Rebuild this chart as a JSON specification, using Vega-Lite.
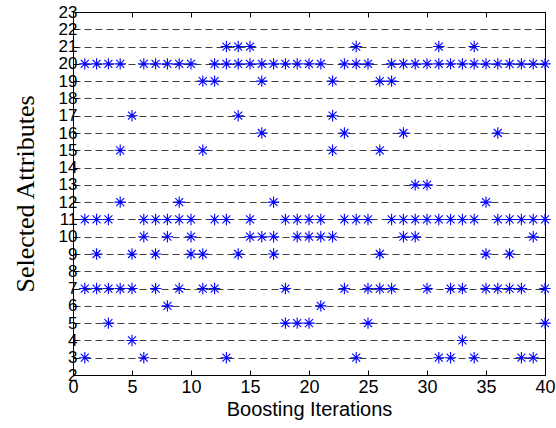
{
  "$schema": "https://vega.github.io/schema/vega-lite/v6.json",
  "autosize": "none",
  "width": 472,
  "height": 363,
  "padding": {"left": 73, "top": 12, "right": 11, "bottom": 53},
  "background": "white",
  "config": {
    "view": {"stroke": "black", "strokeWidth": 1},
    "axis": {"labelFont": "Liberation Sans", "labelFontSize": 18, "labelColor": "black", "domainColor": "black", "tickColor": "black", "titleColor": "black", "titleFontWeight": "normal", "labelOverlap": false, "labelFlush": false, "labelBound": false}
  },
  "data": {"values": [
    {"it":1,"attr":20},{"it":2,"attr":20},{"it":3,"attr":20},{"it":4,"attr":20},{"it":6,"attr":20},{"it":7,"attr":20},{"it":8,"attr":20},{"it":9,"attr":20},{"it":10,"attr":20},{"it":12,"attr":20},{"it":13,"attr":20},{"it":14,"attr":20},{"it":15,"attr":20},{"it":16,"attr":20},{"it":17,"attr":20},{"it":18,"attr":20},{"it":19,"attr":20},{"it":20,"attr":20},{"it":21,"attr":20},{"it":23,"attr":20},{"it":24,"attr":20},{"it":25,"attr":20},{"it":27,"attr":20},{"it":28,"attr":20},{"it":29,"attr":20},{"it":30,"attr":20},{"it":31,"attr":20},{"it":32,"attr":20},{"it":33,"attr":20},{"it":34,"attr":20},{"it":35,"attr":20},{"it":36,"attr":20},{"it":37,"attr":20},{"it":38,"attr":20},{"it":39,"attr":20},{"it":40,"attr":20},
    {"it":13,"attr":21},{"it":14,"attr":21},{"it":15,"attr":21},{"it":24,"attr":21},{"it":31,"attr":21},{"it":34,"attr":21},
    {"it":11,"attr":19},{"it":12,"attr":19},{"it":16,"attr":19},{"it":22,"attr":19},{"it":26,"attr":19},{"it":27,"attr":19},
    {"it":5,"attr":17},{"it":14,"attr":17},{"it":22,"attr":17},
    {"it":16,"attr":16},{"it":23,"attr":16},{"it":28,"attr":16},{"it":36,"attr":16},
    {"it":4,"attr":15},{"it":11,"attr":15},{"it":22,"attr":15},{"it":26,"attr":15},
    {"it":29,"attr":13},{"it":30,"attr":13},
    {"it":4,"attr":12},{"it":9,"attr":12},{"it":17,"attr":12},{"it":35,"attr":12},
    {"it":1,"attr":11},{"it":2,"attr":11},{"it":3,"attr":11},{"it":6,"attr":11},{"it":7,"attr":11},{"it":8,"attr":11},{"it":9,"attr":11},{"it":10,"attr":11},{"it":12,"attr":11},{"it":13,"attr":11},{"it":15,"attr":11},{"it":18,"attr":11},{"it":19,"attr":11},{"it":20,"attr":11},{"it":21,"attr":11},{"it":23,"attr":11},{"it":24,"attr":11},{"it":25,"attr":11},{"it":27,"attr":11},{"it":28,"attr":11},{"it":29,"attr":11},{"it":30,"attr":11},{"it":31,"attr":11},{"it":32,"attr":11},{"it":33,"attr":11},{"it":34,"attr":11},{"it":36,"attr":11},{"it":37,"attr":11},{"it":38,"attr":11},{"it":39,"attr":11},{"it":40,"attr":11},
    {"it":6,"attr":10},{"it":8,"attr":10},{"it":10,"attr":10},{"it":15,"attr":10},{"it":16,"attr":10},{"it":17,"attr":10},{"it":19,"attr":10},{"it":20,"attr":10},{"it":21,"attr":10},{"it":22,"attr":10},{"it":28,"attr":10},{"it":29,"attr":10},{"it":39,"attr":10},
    {"it":2,"attr":9},{"it":5,"attr":9},{"it":7,"attr":9},{"it":10,"attr":9},{"it":11,"attr":9},{"it":14,"attr":9},{"it":17,"attr":9},{"it":26,"attr":9},{"it":35,"attr":9},{"it":37,"attr":9},
    {"it":1,"attr":7},{"it":2,"attr":7},{"it":3,"attr":7},{"it":4,"attr":7},{"it":5,"attr":7},{"it":7,"attr":7},{"it":9,"attr":7},{"it":11,"attr":7},{"it":12,"attr":7},{"it":18,"attr":7},{"it":23,"attr":7},{"it":25,"attr":7},{"it":26,"attr":7},{"it":27,"attr":7},{"it":30,"attr":7},{"it":32,"attr":7},{"it":33,"attr":7},{"it":35,"attr":7},{"it":36,"attr":7},{"it":37,"attr":7},{"it":38,"attr":7},{"it":40,"attr":7},
    {"it":8,"attr":6},{"it":21,"attr":6},
    {"it":3,"attr":5},{"it":18,"attr":5},{"it":19,"attr":5},{"it":20,"attr":5},{"it":25,"attr":5},{"it":40,"attr":5},
    {"it":5,"attr":4},{"it":33,"attr":4},
    {"it":1,"attr":3},{"it":6,"attr":3},{"it":13,"attr":3},{"it":24,"attr":3},{"it":31,"attr":3},{"it":32,"attr":3},{"it":34,"attr":3},{"it":38,"attr":3},{"it":39,"attr":3}
  ]},
  "resolve": {"axis": {"x": "independent", "y": "independent"}},
  "layer": [
    {
      "mark": {"type": "point", "shape": "M-1,0L1,0M0,-1L0,1M-0.7,-0.7L0.7,0.7M-0.7,0.7L0.7,-0.7", "filled": false, "stroke": "#0000FF", "strokeWidth": 1.1, "size": 130, "opacity": 1},
      "encoding": {
        "x": {"field": "it", "type": "quantitative", "scale": {"domain": [0, 40], "nice": false, "zero": false},
              "axis": {"values": [0,5,10,15,20,25,30,35,40], "tickSize": -5, "labelPadding": 8, "grid": false, "title": "Boosting Iterations", "titleFont": "Liberation Sans", "titleFontSize": 20, "titlePadding": 3}},
        "y": {"field": "attr", "type": "quantitative", "scale": {"domain": [2, 23], "nice": false, "zero": false},
              "axis": {"values": [2,3,4,5,6,7,8,9,10,11,12,13,14,15,16,17,18,19,20,21,22,23], "tickSize": -5, "labelPadding": 1, "labelFontSize": 17, "grid": true, "gridColor": "black", "gridDash": [7, 4], "gridOpacity": 0.75, "title": "Selected Attributes", "titleFont": "Liberation Serif", "titleFontSize": 26, "titlePadding": 20}}
      }
    },
    {
      "mark": {"type": "point", "opacity": 0},
      "encoding": {
        "x": {"field": "it", "type": "quantitative", "axis": {"orient": "top", "values": [0,5,10,15,20,25,30,35,40], "tickSize": -5, "labels": false, "domain": false, "grid": false, "title": null}},
        "y": {"field": "attr", "type": "quantitative", "axis": {"orient": "right", "values": [2,3,4,5,6,7,8,9,10,11,12,13,14,15,16,17,18,19,20,21,22,23], "tickSize": -5, "labels": false, "domain": false, "grid": false, "title": null}}
      }
    }
  ]
}
